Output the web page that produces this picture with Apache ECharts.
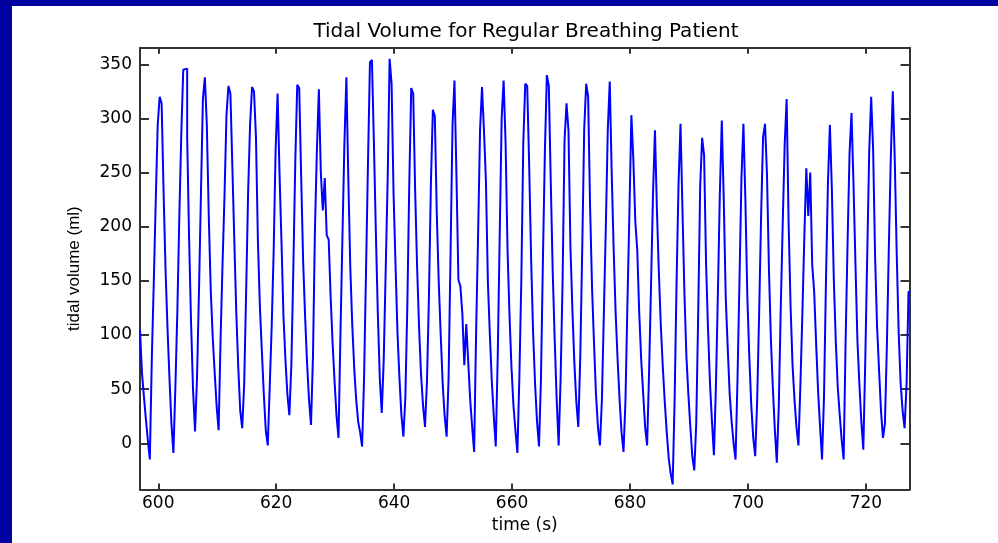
<!DOCTYPE html>
<html>
<head>
<meta charset="utf-8">
<script src="https://cdn.jsdelivr.net/npm/echarts@6/dist/echarts.min.js"></script>
<style>
html,body{margin:0;padding:0;background:#fff;}
#chart{width:998px;height:543px;}
</style>
</head>
<body>
<div id="chart"></div>
<script>
const titleText = 'Tidal Volume for Regular Breathing Patient';
const xAxisName = 'time (s)';
const yAxisName = 'tidal volume (ml)';
const xTicks = [600, 620, 640, 660, 680, 700, 720];
const yTicks = [0, 50, 100, 150, 200, 250, 300, 350];
const xRange = [596.9, 727.4];
const yRange = [-42.7, 365.3];
const startTime = 596.9;      // time of first sample (s)
const sampleInterval = 1 / 3; // seconds between samples
// tidal volume samples (ml)
const tidalVolume = [
  105, 65, 43, 22, 3, -15,
  77, 148, 223, 294, 320, 314,
  232, 160, 106, 60, 18, -9,
  52, 122, 209, 285, 345, 346,
  282, 188, 110, 49, 11,
  60, 140, 230, 318, 338,
  294, 209, 141, 98, 65, 34, 12,
  97, 166, 229, 303, 330, 323,
  255, 186, 120, 70, 30, 14,
  54, 140, 231, 294, 329, 325,
  283, 186, 126, 85, 45, 12, -2,
  52, 108, 177, 271, 323,
  248, 185, 117, 77, 45, 26,
  72, 160, 260, 331, 328,
  246, 168, 117, 74, 40, 17,
  80, 197, 271, 327,
  250, 215, 245, 192, 188, 135, 92, 57, 25, 5,
  102, 191, 277, 338,
  243, 162, 109, 69, 40, 20, 10, -3,
  60, 160, 260, 352, 354,
  278, 195, 120, 60, 28,
  77, 160, 243, 355, 332,
  231, 165, 102, 60, 26, 6,
  42, 126, 240, 328, 323,
  232, 162, 106, 63, 35, 15,
  57, 135, 240, 308, 302,
  212, 148, 100, 55, 25, 6,
  60, 175, 294, 335,
  248, 151, 145, 120, 72, 110, 75, 40, 15, -8,
  102, 191, 289, 329,
  289, 242, 149, 100, 57, 25, -3,
  80, 191, 300, 335,
  277, 178, 118, 70, 35, 12, -9,
  60, 150, 277, 332, 330,
  257, 170, 102, 55, 20, -3,
  60, 170, 270, 340, 330,
  240, 157, 95, 40, -2,
  60, 150, 280, 314,
  289, 181, 123, 74, 38, 15,
  80, 180, 290, 332, 320,
  218, 143, 92, 45, 15, -2,
  40, 120, 200, 290, 334,
  249, 178, 120, 77, 40, 10, -8,
  40, 130, 213, 303,
  262, 205, 178, 120, 77, 46, 15, -2,
  65, 146, 230, 289,
  215, 157, 108, 70, 38, 10, -14, -28, -38,
  40, 150, 240, 295,
  215, 138, 80, 45, 15, -12, -25,
  18, 120, 237, 282,
  266, 166, 105, 55, 20, -11,
  52, 137, 230, 298,
  225, 135, 89, 46, 20, 0, -15,
  60, 150, 245, 295,
  225, 135, 80, 35, 5, -12,
  40, 120, 210, 283, 295,
  248, 160, 95, 50, 12, -18,
  35, 125, 203, 276, 318,
  203, 126, 72, 40, 15, -2,
  54, 120, 191, 254,
  210, 250, 165, 140, 92, 48, 15, -15,
  43, 150, 240, 294,
  235, 151, 94, 52, 26, 3, -15,
  95, 186, 268, 305,
  240, 166, 95, 55, 20, -6,
  77, 174, 269, 320,
  271, 172, 108, 68, 30, 5,
  18, 91, 182, 265, 325,
  262, 175, 102, 55, 30, 14,
  54, 140
];

// sample-and-hold: each sample is held until the next one
const seriesData = [];
tidalVolume.forEach((v, i) => {
  const t = startTime + i * sampleInterval;
  seriesData.push([t, v]);
  seriesData.push([t + sampleInterval, v]);
});

const axisColor = '#333';
const tickFont = { fontFamily: 'DejaVu Sans', fontSize: 17, color: '#000' };

const chart = echarts.init(document.getElementById('chart'), null, { renderer: 'canvas' });
const option = {
  animation: false,
  backgroundColor: '#fff',
  graphic: [
    { type: 'rect', left: 0, top: 0, z: 100, shape: { width: 12, height: 543 }, style: { fill: '#0000a0' } },
    { type: 'rect', left: 0, top: 0, z: 100, shape: { width: 998, height: 6 }, style: { fill: '#0000a0' } }
  ],
  title: {
    text: titleText,
    left: 521,
    top: 17,
    textAlign: 'center',
    textStyle: { fontFamily: 'DejaVu Sans', fontSize: 20, fontWeight: 'normal', color: '#000' }
  },
  grid: { left: 140, right: 88.5, top: 47.7, bottom: 53.5, containLabel: false },
  xAxis: [
    {
      type: 'value', position: 'bottom', min: xRange[0], max: xRange[1],
      name: xAxisName, nameLocation: 'middle', nameGap: 25,
      nameTextStyle: { fontFamily: 'DejaVu Sans', fontSize: 17, color: '#000' },
      axisLine: { show: true, onZero: false, lineStyle: { color: axisColor, width: 2 } },
      axisTick: { show: true, inside: true, length: 6, customValues: xTicks, lineStyle: { color: axisColor, width: 2 } },
      axisLabel: Object.assign({ show: true, customValues: xTicks, margin: 6 }, tickFont),
      splitLine: { show: false }
    },
    {
      type: 'value', position: 'top', min: xRange[0], max: xRange[1],
      axisLine: { show: true, onZero: false, lineStyle: { color: axisColor, width: 2 } },
      axisTick: { show: true, inside: true, length: 6, customValues: xTicks, lineStyle: { color: axisColor, width: 2 } },
      axisLabel: { show: false },
      splitLine: { show: false }
    }
  ],
  yAxis: [
    {
      type: 'value', position: 'left', min: yRange[0], max: yRange[1],
      name: yAxisName, nameLocation: 'middle', nameGap: 57, nameRotate: 90,
      nameTextStyle: { fontFamily: 'Liberation Sans', fontSize: 17, color: '#000' },
      axisLine: { show: true, onZero: false, lineStyle: { color: axisColor, width: 2 } },
      axisTick: { show: true, inside: true, length: 9, customValues: yTicks, lineStyle: { color: axisColor, width: 2 } },
      axisLabel: Object.assign({ show: true, customValues: yTicks, margin: 8 }, tickFont),
      splitLine: { show: false }
    },
    {
      type: 'value', position: 'right', min: yRange[0], max: yRange[1],
      axisLine: { show: true, onZero: false, lineStyle: { color: axisColor, width: 2 } },
      axisTick: { show: true, inside: true, length: 9, customValues: yTicks, lineStyle: { color: axisColor, width: 2 } },
      axisLabel: { show: false },
      splitLine: { show: false }
    }
  ],
  series: [
    {
      type: 'line',
      xAxisIndex: 0,
      yAxisIndex: 0,
      data: seriesData,
      showSymbol: false,
      symbol: 'none',
      clip: true,
      lineStyle: { color: '#0000ff', width: 2 }
    }
  ]
};
chart.setOption(option);
</script>
</body>
</html>
